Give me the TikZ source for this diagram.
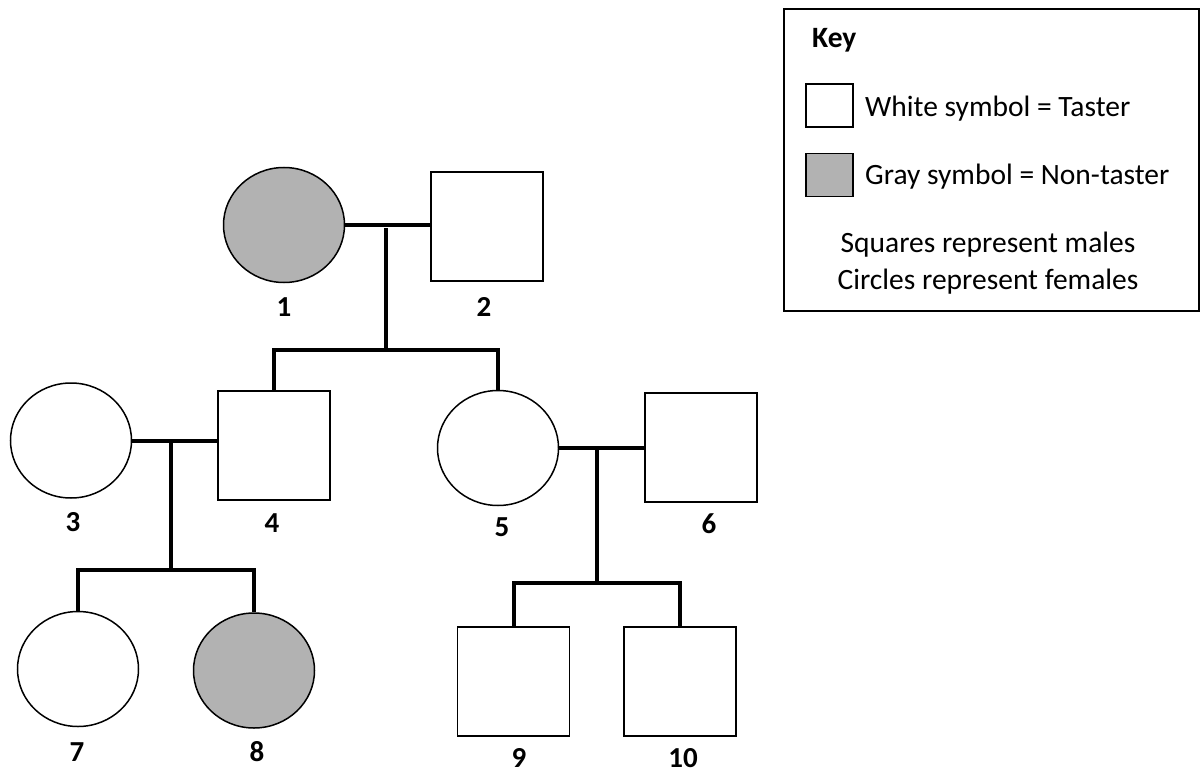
\documentclass[tikz,border=0pt]{standalone}
\usepackage{fontspec}
\setmainfont{Carlito}
\usetikzlibrary{shapes.geometric}
\tikzset{
  female/.style={ellipse, draw, line width=1.5pt, minimum width=121pt, minimum height=115pt, inner sep=0pt, fill=white},
  male/.style={rectangle, draw, line width=1.5pt, minimum width=112pt, minimum height=109pt, inner sep=0pt, fill=white},
  affected/.style={fill=black!30},
  conn/.style={line width=4pt},
  lbl/.style={font=\fontsize{29}{33}\selectfont\bfseries, inner sep=0pt},
  keytext/.style={font=\fontsize{29.5}{34}\selectfont, inner sep=0pt},
  keysym/.style={rectangle, draw, line width=1.5pt, minimum width=47pt, minimum height=43pt, inner sep=0pt}
}
\begin{document}
\begin{tikzpicture}[x=1pt,y=-1pt]
\useasboundingbox (0,0) rectangle (1202,773);
% individuals
\node[female, affected] (n1) at (284,225) {};
\node[male] (n2) at (487,226.5) {};
\node[female] (n3) at (71,440.5) {};
\node[male] (n4) at (274,445.5) {};
\node[female] (n5) at (498,448) {};
\node[male] (n6) at (701,447.5) {};
\node[female] (n7) at (78,669) {};
\node[female, affected] (n8) at (254,670.5) {};
\node[male] (n9) at (513.5,681.5) {};
\node[male] (n10) at (680,681.5) {};
% labels
\node[lbl] (l1) at (284,307) {1};
\node[lbl] (l2) at (484,307) {2};
\node[lbl] (l3) at (73,522) {3};
\node[lbl] (l4) at (272,523) {4};
\node[lbl] (l5) at (502,527) {5};
\node[lbl] (l6) at (709,524) {6};
\node[lbl] (l7) at (77,752) {7};
\node[lbl] (l8) at (257,752) {8};
\node[lbl] (l9) at (519,758) {9};
\node[lbl] (l10) at (683,758) {10};
% junctions
\coordinate (m12) at (386,228);
\coordinate (s12) at (386,350);
\coordinate (m34) at (171,441);
\coordinate (s34) at (171,570);
\coordinate (m56) at (597,449);
\coordinate (s56) at (597,583);
% connectors
\draw[conn] (n1.east) -- (n1.east -| n2.west);
\draw[conn] (m12) -- (s12);
\draw[conn] (n4.north) |- (s12) -| (n5.north);
\draw[conn] (n3.east) -- (n3.east -| n4.west);
\draw[conn] (m34) -- (s34);
\draw[conn] (n7.north) |- (s34) -| (n8.north);
\draw[conn] (n5.east) -- (n5.east -| n6.west);
\draw[conn] (m56) -- (s56);
\draw[conn] (n9.north) |- (s56) -| (n10.north);
% key
\node[draw, line width=1.5pt, rectangle, minimum width=415pt, minimum height=302pt, inner sep=0pt] (key) at (991.5,160) {};
\node[keytext, font=\fontsize{29.5}{34}\selectfont\bfseries, anchor=west] (keyt) at (812,40) {Key};
\node[keysym] (kw) at (829.5,105.5) {};
\node[keysym, affected] (kg) at (829.5,175) {};
\node[keytext, anchor=west] (kwt) at (865,109) {White symbol = Taster};
\node[keytext, anchor=west] (kgt) at (865,177) {Gray symbol = Non-taster};
\node[keytext] (ks) at (988,245) {Squares represent males};
\node[keytext] (kc) at (988,282) {Circles represent females};
\end{tikzpicture}
\end{document}
